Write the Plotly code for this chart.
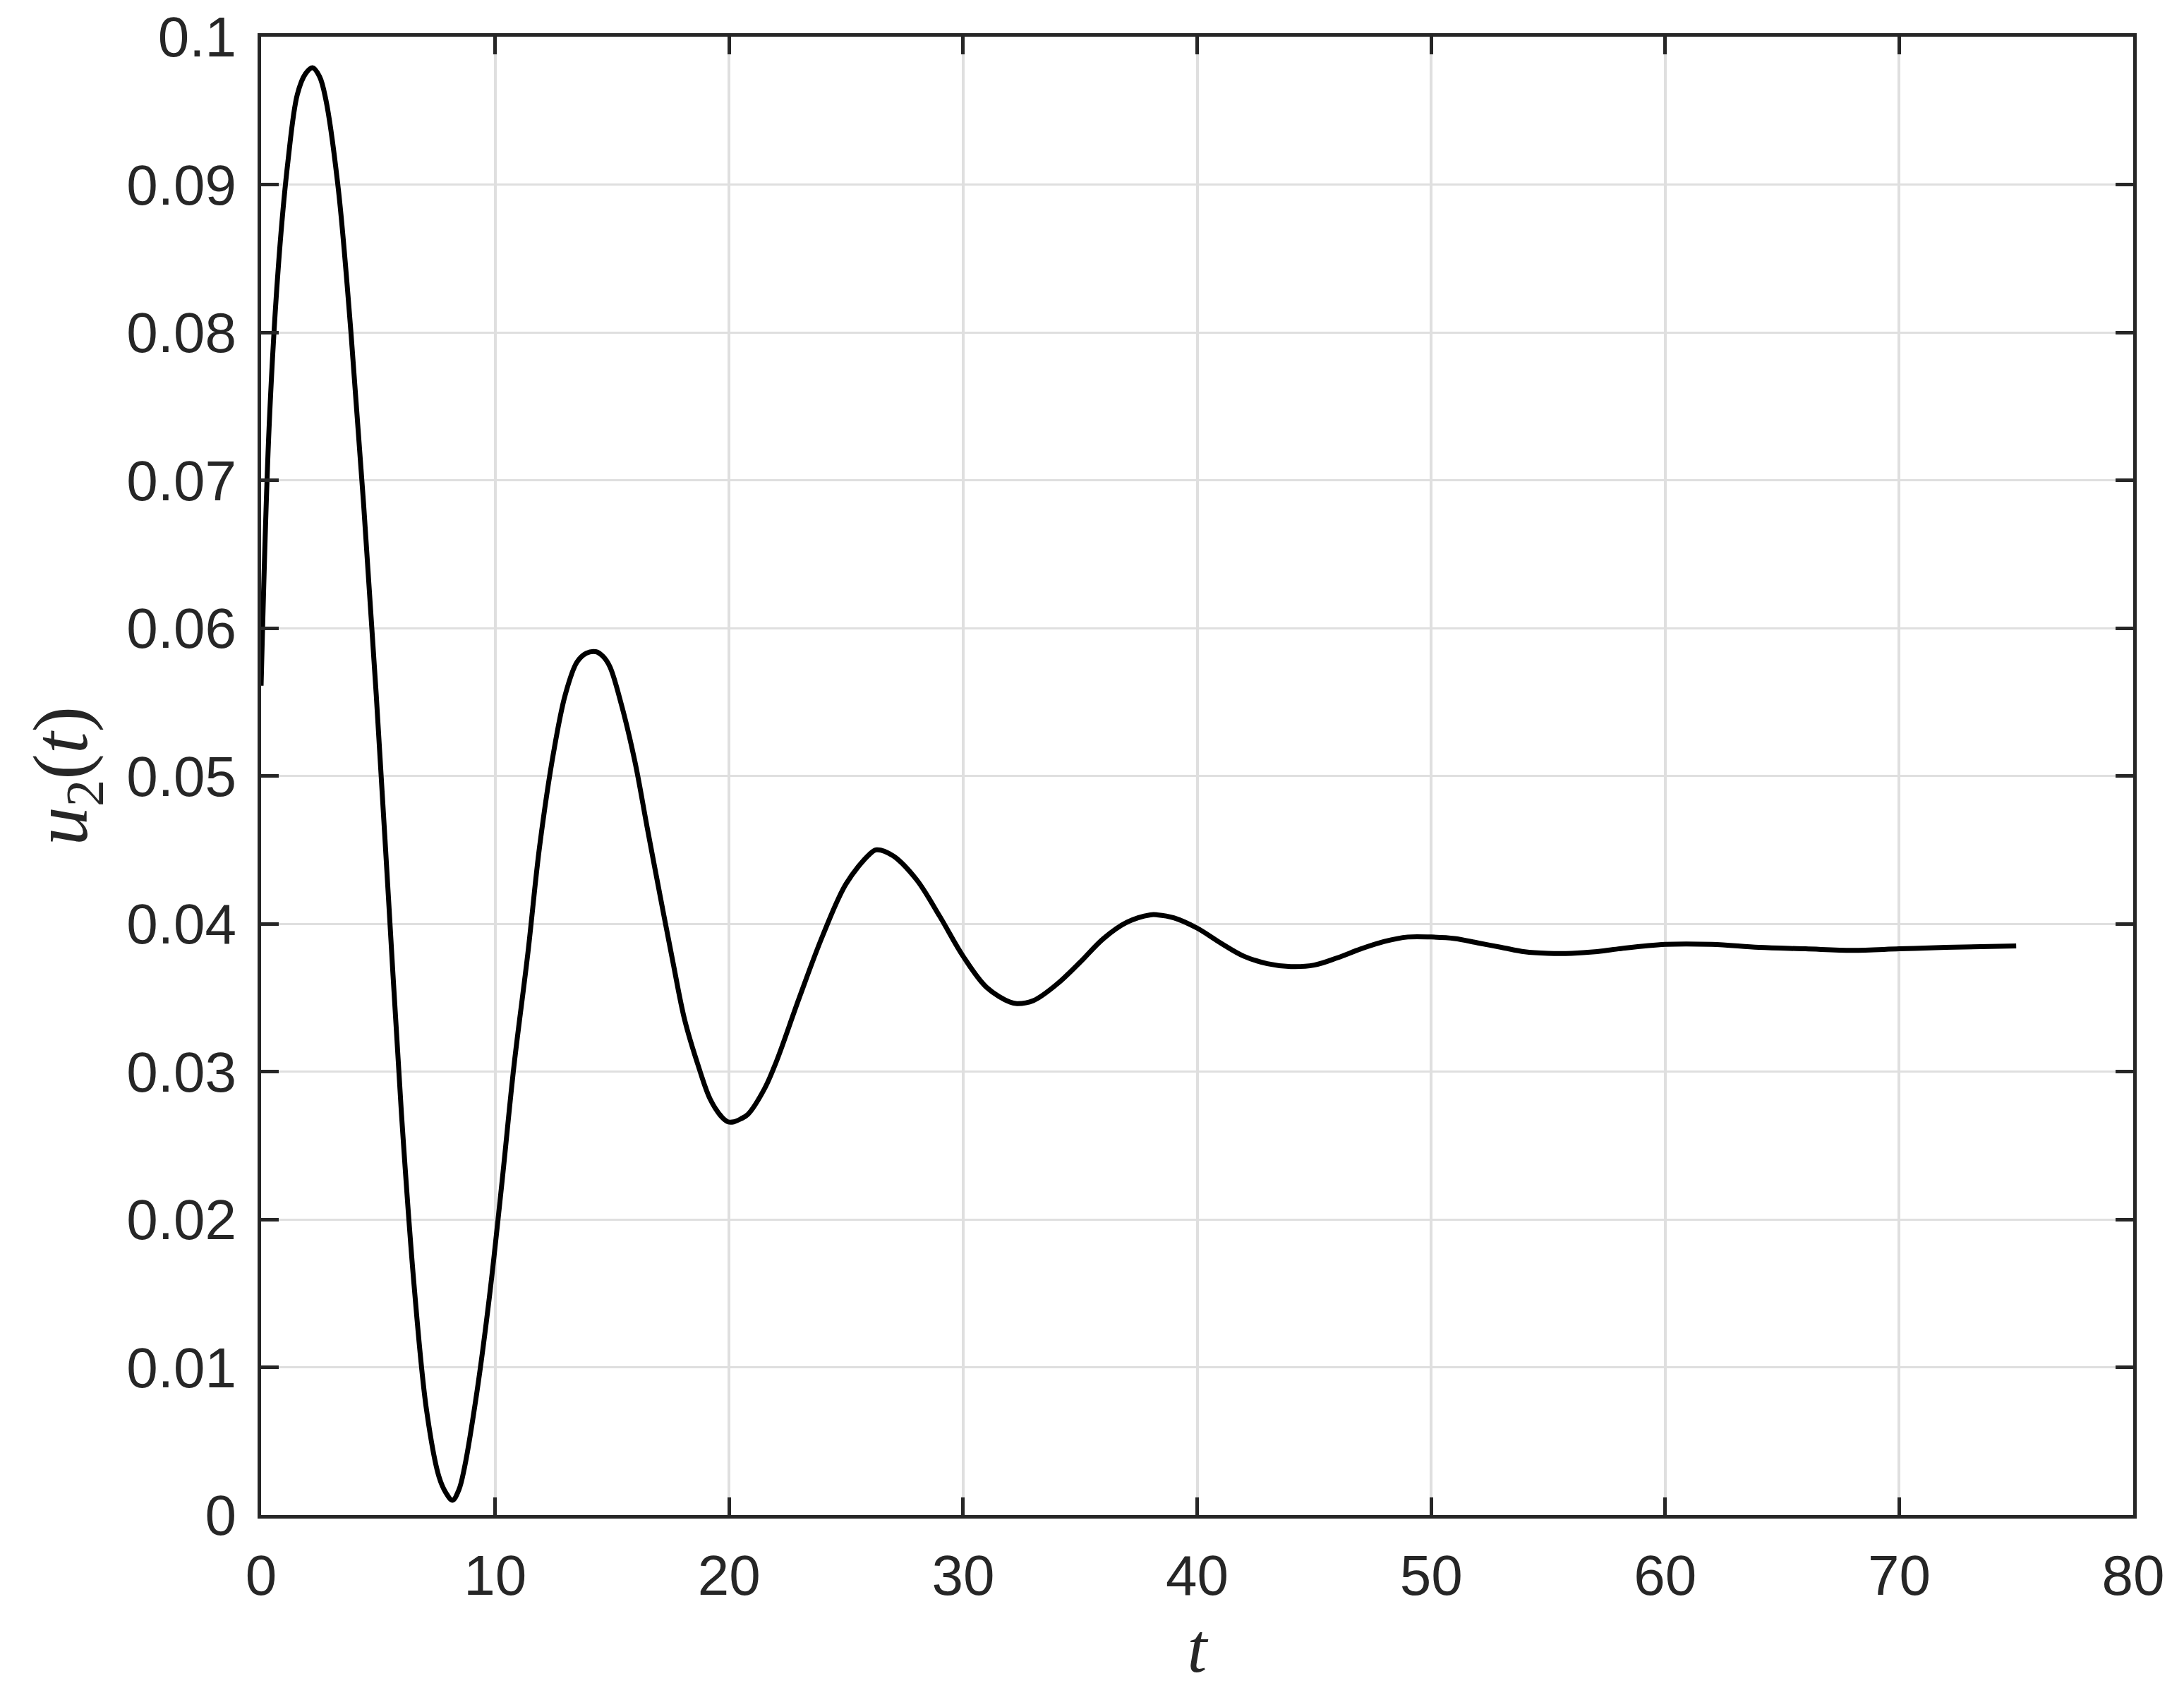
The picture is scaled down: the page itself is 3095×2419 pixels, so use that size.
import plotly.graph_objects as go

# time samples
t = [0.0, 0.34, 0.74, 1.15, 1.55, 1.9, 2.2, 2.5, 2.76, 3.3, 3.84, 4.38, 4.92, 5.46, 6.0, 6.54,
     7.07, 7.6, 7.9, 8.18, 8.45, 8.69, 9.23, 9.76, 10.3, 10.8, 11.4, 11.9, 12.5, 13.0, 13.5,
     13.9, 14.3, 14.6, 14.9, 15.4, 15.97, 16.5, 17.05, 17.6, 18.1, 18.7, 19.2, 19.7, 19.95,
     20.2, 20.5, 20.8,
     21.5, 22, 23, 24, 25, 26, 26.3, 27, 28, 29, 30, 31, 32, 32.3, 33, 34, 35, 36, 37,
     38, 38.3, 39, 40, 41, 42, 43, 44, 45, 46, 47, 48, 49, 50, 51, 52, 53, 54, 55,
     56, 57, 58, 60, 62, 64, 66, 68, 70, 72, 75]

# u2(t) values
u2 = [0.0561, 0.0735, 0.0845, 0.0916, 0.0961, 0.0975, 0.0979, 0.0973, 0.0958, 0.0897,
      0.0800, 0.0684, 0.0555, 0.0413, 0.0271, 0.0155, 0.0071, 0.0026, 0.0015, 0.0010,
      0.0017, 0.0032, 0.0084, 0.0148, 0.0226, 0.0303, 0.0380, 0.0452, 0.0516, 0.0555,
      0.0577, 0.0583, 0.0584, 0.0581, 0.0574, 0.0548, 0.0510, 0.0465, 0.0419, 0.0374,
      0.0335, 0.0303, 0.0281, 0.0269, 0.0266, 0.0266, 0.0268, 0.0271,
      0.0288, 0.0306, 0.0350, 0.0392, 0.0427, 0.0447, 0.0450, 0.0446, 0.0430, 0.0405,
      0.0378, 0.0357, 0.0347, 0.0346, 0.0348, 0.0359, 0.0374, 0.0390, 0.0401, 0.0406,
      0.0406, 0.0404, 0.0397, 0.0387, 0.0378, 0.0373, 0.0371, 0.0372, 0.0377, 0.0383,
      0.0388, 0.0391, 0.0391, 0.0390, 0.0387, 0.0384, 0.0381, 0.0380, 0.0380, 0.0381,
      0.0383, 0.0386, 0.0386, 0.0384, 0.0383, 0.0382, 0.0383, 0.0384, 0.0385]

x_ticks = [0, 10, 20, 30, 40, 50, 60, 70, 80]
y_ticks = [0, 0.01, 0.02, 0.03, 0.04, 0.05, 0.06, 0.07, 0.08, 0.09, 0.1]
y_ticktext = ["0", "0.01", "0.02", "0.03", "0.04", "0.05", "0.06", "0.07", "0.08", "0.09", "0.1"]

axis_color = "#262626"
grid_color = "#dfdfdf"

fig = go.Figure()
fig.add_trace(go.Scatter(x=t, y=u2, mode="lines",
                         line=dict(color="black", width=7, shape="spline", smoothing=1.0),
                         showlegend=False))

fig.update_layout(
    width=3095, height=2419,
    margin=dict(l=362, r=80, t=44, b=280),
    paper_bgcolor="white", plot_bgcolor="white",
    font=dict(family="Liberation Sans, Arial, sans-serif", size=80, color=axis_color),
)

fig.update_xaxes(
    range=[0, 80], tickvals=x_ticks, automargin=False,
    showgrid=True, gridcolor=grid_color, gridwidth=4,
    showline=True, linecolor=axis_color, linewidth=5, mirror="ticks",
    ticks="inside", ticklen=25, tickwidth=5, tickcolor=axis_color,
    zeroline=False,
    tickfont=dict(size=80, color=axis_color),
    ticklabelstandoff=12,
    title=dict(text="<i>t</i>", font=dict(family="Liberation Serif, serif", size=100, color=axis_color),
               standoff=24),
)
fig.update_yaxes(
    range=[0, 0.1], tickvals=y_ticks, ticktext=y_ticktext, automargin=False,
    showgrid=True, gridcolor=grid_color, gridwidth=3,
    showline=True, linecolor=axis_color, linewidth=5, mirror="ticks",
    ticks="inside", ticklen=25, tickwidth=5, tickcolor=axis_color,
    zeroline=False,
    tickfont=dict(size=80, color=axis_color),
    ticklabelstandoff=14,
    title=dict(text="<i>u</i><sub>2</sub>(<i>t</i>)",
               font=dict(family="Liberation Serif, serif", size=110, color=axis_color),
               standoff=20),
)

fig.write_html("out.html")
